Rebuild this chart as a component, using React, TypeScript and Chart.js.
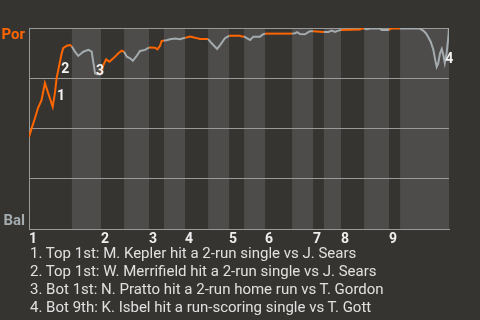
import React, { useEffect, useRef } from "react";
import { Chart, registerables } from "chart.js";

Chart.register(...registerables);

// Half-inning start positions (event index), top 1st .. bottom 9th
const halfInningStarts = [0, 14.3, 24, 31.7, 40, 45, 52, 59.7, 66.7, 71.7, 78.7, 87.7, 94.7, 98.3, 104, 111.7, 120, 123.7];
const gameEnd = 140;
const inningLabels = ["1", "2", "3", "4", "5", "6", "7", "8", "9"];

// Win probability for Por (0 = Bal wins, 100 = Por wins)
const eventX = [
  0, 0.9, 2, 3, 4.2, 5.3, 7.9, 8.7, 9.2, 10.1, 10.9, 11.4, 12.6, 13.7, 14.3,
  15.3, 16.4, 18.1, 19.8, 20.9, 21.4, 21.7, 22, 22.8, 24,
  24.8, 25.7, 26.8, 28.1, 29.8, 30.9, 31.7,
  32.6, 33.7, 34.6, 35.7, 37, 38.7, 40,
  42, 42.8, 43.7, 44.2, 45,
  45.9, 47, 48.7, 50.3, 51.4, 52,
  53.7, 55.3, 57, 59.7,
  60.9, 62.7, 63.7, 65.3, 66.7,
  70.3, 70.9, 71.7,
  72.6, 73.7, 74.8, 77, 78.1, 78.7,
  87.7,
  88.7, 89.4, 90.3, 92, 93.1, 93.7, 94.7,
  98.3,
  99.8, 100.9, 102, 103.1, 104,
  110.3, 110.9, 111.7,
  112.6, 113.7, 117, 117.6, 120,
  120.7, 123.7,
  130.3, 131.4, 132.3, 133.1, 133.9, 134.8, 135.3, 135.9, 136.4, 137, 137.6, 138.1, 138.6, 139.2, 139.8, 140,
];
const winProb = [
  45.8, 50.2, 55.2, 60.2, 64.2, 72.6, 60.8, 68.3, 75.1, 81.6, 87.4, 90.0, 91.2, 91.5, 90.8,
  88.2, 86.1, 88.2, 89.1, 88.2, 83.2, 80.6, 77.5, 77.0, 77.0,
  81.6, 84.4, 83.2, 84.9, 87.4, 88.7, 88.2,
  85.7, 84.9, 83.7, 85.7, 88.6, 89.1, 90.3,
  90.2, 89.4, 91.2, 93.5, 93.8,
  93.9, 94.4, 94.8, 94.4, 94.9, 95.1,
  95.7, 95.2, 94.5, 94.5,
  92.4, 89.6, 91.5, 94.9, 96.1,
  96.2, 95.8, 95.8,
  94.9, 94.0, 95.7, 95.7, 96.9, 97.2,
  97.2,
  97.4, 97.9, 97.0, 96.9, 97.9, 98.4, 98.4,
  98.0,
  98.0, 98.7, 98.0, 98.7, 99.0,
  99.2, 99.7, 99.7,
  99.4, 99.7, 99.7, 99.0, 99.0,
  99.7, 99.7,
  99.7, 98.7, 97.4, 95.4, 93.2, 89.1, 84.9, 80.7, 82.4, 87.4, 89.6, 86.6, 82.6, 87.4, 95.7, 100,
];

const noteEventX = [8.7, 10.1, 21.7, 138.1];
const noteLabels = ["1", "2", "3", "4"];
const noteTexts = [
  "1. Top 1st: M. Kepler hit a 2-run single vs J. Sears",
  "2. Top 1st: W. Merrifield hit a 2-run single vs J. Sears",
  "3. Bot 1st: N. Pratto hit a 2-run home run vs T. Gordon",
  "4. Bot 9th: K. Isbel hit a run-scoring single vs T. Gott",
];

const teamTop = "Por";
const teamBottom = "Bal";

const BG = "#363430";
const BAND = "#4d4c4a";
const ORANGE = "#ff6600";
const GRAY = "#a3abaf";
const GRID = "#999999";
const FONT = "Roboto, 'Noto Sans', sans-serif";

const topStarts = halfInningStarts.filter((_, i) => i % 2 === 0);

function halfIndex(x: number): number {
  let idx = 0;
  for (let i = 0; i < halfInningStarts.length; i++) {
    if (x >= halfInningStarts[i]) idx = i;
  }
  return idx;
}

const bandsPlugin = {
  id: "bands",
  beforeDraw(chart: any) {
    const { ctx, chartArea, scales } = chart;
    ctx.save();
    ctx.fillStyle = BG;
    ctx.fillRect(0, 0, chart.width, chart.height);
    ctx.fillStyle = BAND;
    for (let i = 1; i < halfInningStarts.length; i += 2) {
      const x0 = scales.x.getPixelForValue(halfInningStarts[i]);
      const end = i + 1 < halfInningStarts.length ? halfInningStarts[i + 1] : gameEnd;
      const x1 = scales.x.getPixelForValue(end);
      ctx.fillRect(x0, chartArea.top, x1 - x0, chartArea.bottom - chartArea.top);
    }
    ctx.restore();
  },
};

const labelsPlugin = {
  id: "labelsOverlay",
  afterDraw(chart: any) {
    const { ctx, chartArea } = chart;
    ctx.save();
    ctx.font = `bold 15px ${FONT}`;
    ctx.textAlign = "right";
    ctx.textBaseline = "alphabetic";
    ctx.fillStyle = ORANGE;
    ctx.fillText(teamTop, chartArea.left - 4, chartArea.top + 11);
    ctx.fillStyle = GRAY;
    ctx.fillText(teamBottom, chartArea.left - 4, chartArea.bottom - 4);

    const meta = chart.getDatasetMeta(0);
    ctx.font = `bold 14px ${FONT}`;
    ctx.textAlign = "center";
    ctx.textBaseline = "middle";
    ctx.fillStyle = "#f2f2f2";
    noteEventX.forEach((ex, i) => {
      const idx = eventX.indexOf(ex);
      const pt = meta.data[idx];
      if (!pt) return;
      ctx.fillText(noteLabels[i], pt.x + 6, pt.y + 5);
    });
    ctx.restore();
  },
};

export default function App() {
  const canvasRef = useRef<HTMLCanvasElement | null>(null);

  useEffect(() => {
    document.body.style.margin = "0";
    const canvas = canvasRef.current;
    if (!canvas) return;
    const data = eventX.map((x, i) => ({ x, y: winProb[i] }));
    const chart = new Chart(canvas, {
      type: "line",
      data: {
        datasets: [
          {
            data,
            borderWidth: 2,
            pointRadius: 0,
            tension: 0,
            borderColor: ORANGE,
            segment: {
              borderColor: (c: any) => {
                const mid = (c.p0.parsed.x + c.p1.parsed.x) / 2;
                return halfIndex(mid) % 2 === 0 ? ORANGE : GRAY;
              },
            },
          },
        ],
      },
      options: {
        animation: false,
        responsive: false,
        maintainAspectRatio: false,
        layout: { padding: { top: 28, right: 31, left: 0, bottom: 0 } },
        plugins: { legend: { display: false }, tooltip: { enabled: false } },
        scales: {
          x: {
            type: "linear",
            min: 0,
            max: gameEnd,
            grid: { display: false, drawTicks: false },
            border: { display: true, color: GRID, width: 1 },
            afterFit: (s: any) => {
              s.height = 91;
            },
            afterBuildTicks: (s: any) => {
              s.ticks = topStarts.map((v) => ({ value: v }));
            },
            ticks: {
              autoSkip: false,
              maxRotation: 0,
              minRotation: 0,
              align: "start",
              padding: 2,
              color: "#eeeeee",
              font: { family: FONT, size: 14, weight: "bold" },
              callback: (_v: any, i: number) => inningLabels[i],
            },
          },
          y: {
            min: 0,
            max: 100,
            afterFit: (s: any) => {
              s.width = 29;
            },
            ticks: { display: false, stepSize: 25 },
            grid: { color: GRID, drawTicks: false, lineWidth: 1 },
            border: { display: true, color: GRID, width: 1 },
          },
        },
      },
      plugins: [bandsPlugin, labelsPlugin],
    } as any);
    return () => chart.destroy();
  }, []);

  return (
    <div style={{ position: "relative", width: 480, height: 320, background: BG, overflow: "hidden" }}>
      <canvas ref={canvasRef} width={480} height={320} style={{ display: "block", width: 480, height: 320 }} />
      <div
        style={{
          position: "absolute",
          left: 30,
          top: 244,
          fontFamily: FONT,
          fontSize: 15,
          lineHeight: "18px",
          color: "#e0e0e0",
          whiteSpace: "nowrap",
        }}
      >
        {noteTexts.map((t) => (
          <div key={t}>{t}</div>
        ))}
      </div>
    </div>
  );
}
